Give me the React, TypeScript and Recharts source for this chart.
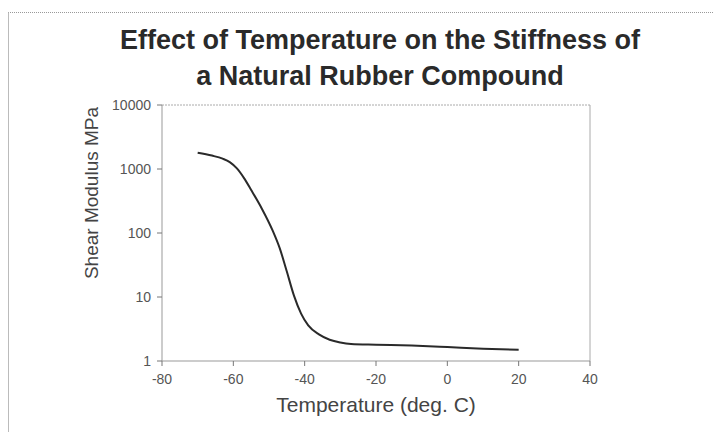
import { LineChart, Line, XAxis, YAxis, ReferenceLine } from 'recharts';

// temperature (deg C) vs shear modulus (MPa)
const temps = [-70, -66, -63, -61, -59, -57, -55, -52, -49, -47, -45, -43, -41, -39, -36, -33, -30, -27, -20, -10, 0, 10, 20];
const modulus = [1800, 1620, 1450, 1280, 1020, 720, 470, 240, 110, 58, 25, 10.5, 5.5, 3.6, 2.6, 2.15, 1.95, 1.85, 1.8, 1.74, 1.65, 1.56, 1.5];

const xTicks = [-80, -60, -40, -20, 0, 20, 40];
const yTicks = [1, 10, 100, 1000, 10000];

const data = temps.map((t, i) => ({ t, g: modulus[i] }));

const font = 'Arial, "Liberation Sans", Helvetica, sans-serif';
const tickStyle = { fontSize: 14, fill: '#555', fontFamily: font };

export default function App() {
  return (
    <div style={{ position: 'absolute', left: 0, top: 0, width: 714, height: 432, background: '#fff', fontFamily: font, overflow: 'hidden' }}>
      <div style={{ position: 'absolute', left: 8, top: 12, width: 720, height: 440, borderTop: '1px dotted #999', borderLeft: '1px solid #bbb' }} />
      <div style={{ position: 'absolute', left: 0, width: 760, top: 22, textAlign: 'center', fontSize: 27, fontWeight: 'bold', lineHeight: '36px', color: '#2a2a2a' }}>
        Effect of Temperature on the Stiffness of
        <br />
        a Natural Rubber Compound
      </div>
      <div style={{ position: 'absolute', left: 92, top: 193, transform: 'translate(-50%, -50%) rotate(-90deg)', whiteSpace: 'nowrap', fontSize: 19, color: '#444' }}>
        Shear Modulus MPa
      </div>
      <div style={{ position: 'absolute', left: 376, top: 405, transform: 'translate(-50%, -50%)', whiteSpace: 'nowrap', fontSize: 21, color: '#444' }}>
        Temperature (deg. C)
      </div>
      <div style={{ position: 'absolute', left: 0, top: 0 }}>
        <LineChart width={714} height={432} data={data} margin={{ top: 105, right: 124, bottom: 41, left: 102 }}>
          <XAxis
            dataKey="t"
            type="number"
            domain={[-80, 40]}
            ticks={xTicks}
            height={30}
            tick={{ ...tickStyle, dy: 6 }}
            tickSize={5}
            stroke="#999"
            tickLine={{ stroke: '#777' }}
          />
          <YAxis
            scale="log"
            type="number"
            domain={[1, 10000]}
            ticks={yTicks}
            allowDataOverflow
            width={60}
            tick={{ ...tickStyle, dx: -4 }}
            tickSize={5}
            stroke="#999"
            tickLine={{ stroke: '#777' }}
          />
          <ReferenceLine y={10000} stroke="#aaa" strokeDasharray="2 1" ifOverflow="visible" />
          <ReferenceLine x={40} stroke="#aaa" ifOverflow="visible" />
          <Line
            type="monotone"
            dataKey="g"
            stroke="#2a2a2a"
            strokeWidth={2}
            dot={false}
            isAnimationActive={false}
          />
        </LineChart>
      </div>
    </div>
  );
}
